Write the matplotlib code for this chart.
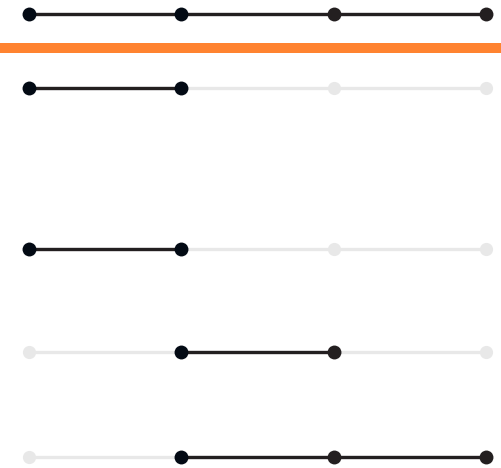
import matplotlib
matplotlib.use("Agg")
import matplotlib.pyplot as plt

# columns of the set matrix
columns = ["A", "B", "C", "D"]

# membership of each row (1 = active)
rows = [
    [1, 1, 1, 1],
    [1, 1, 0, 0],
    [1, 1, 0, 0],
    [0, 1, 1, 0],
    [0, 1, 1, 1],
]

# layout (pixels from top)
row_y = [14, 88, 249, 352, 457]
band = (43, 53)

dot_colors = ["#030a14", "#030a14", "#231f20", "#231f20"]
line_color = "#231f20"
off_color = "#e8e8e8"
orange = "#ff8330"

fig = plt.figure(figsize=(5.01, 4.68), dpi=100)
ax = fig.add_axes([0, 0, 1, 1])
ax.set_xlim(-29 / 152.3, 3 + 15 / 152.3)
ax.set_ylim(468, 0)
ax.axis("off")

ax.axhspan(band[0], band[1], color=orange, lw=0)

xs = list(range(len(columns)))
for y, member in zip(row_y, rows):
    # background line
    ax.plot([xs[0], xs[-1]], [y, y], color=off_color, lw=2.4,
            solid_capstyle="butt", zorder=1)
    on = [x for x, m in zip(xs, member) if m]
    if on:
        ax.plot([min(on), max(on)], [y, y], color=line_color, lw=2.4,
                solid_capstyle="butt", zorder=2)
    for x, m in zip(xs, member):
        if m:
            ax.plot(x, y, "o", ms=10, color=dot_colors[x], mew=0, zorder=3)
        else:
            ax.plot(x, y, "o", ms=9.5, color=off_color, mew=0, zorder=3)

fig.savefig("out.png", dpi=100)
